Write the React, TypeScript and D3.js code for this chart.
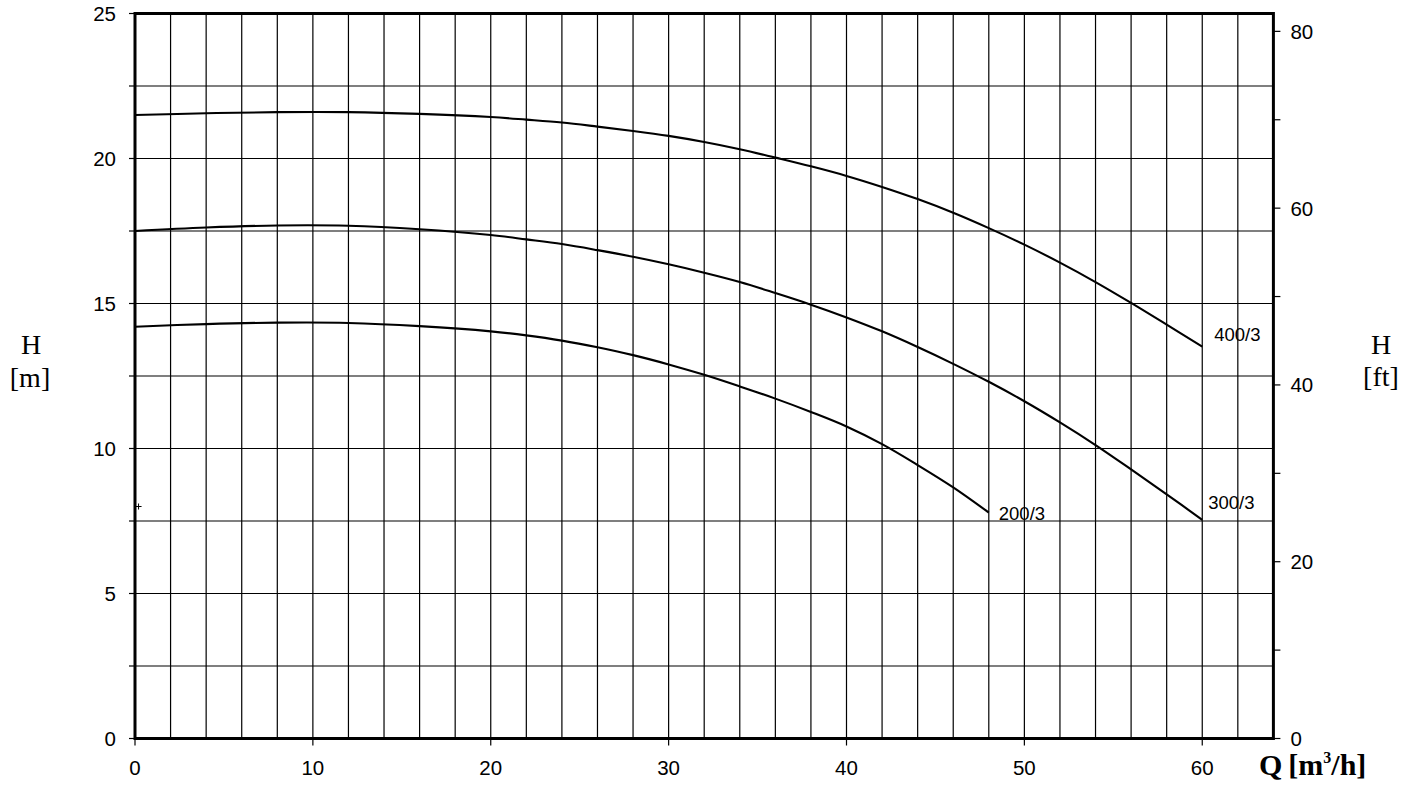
import React from "react";
import * as d3 from "d3";

// ---- data ----
const flowQ400 = [0, 4, 8, 12, 16, 20, 22, 24, 26, 28, 30, 32, 34, 36, 38, 40, 42, 44, 46, 48, 50, 52, 54, 56, 58, 60];
const head400 = [21.5, 21.56, 21.6, 21.6, 21.54, 21.43, 21.34, 21.24, 21.1, 20.95, 20.78, 20.57, 20.32, 20.03, 19.73, 19.4, 19.02, 18.6, 18.13, 17.6, 17.03, 16.41, 15.74, 15.02, 14.27, 13.51];
const flowQ300 = [0, 4, 8, 12, 16, 20, 22, 24, 26, 28, 30, 32, 34, 36, 38, 40, 42, 44, 46, 48, 50, 52, 54, 56, 58, 60];
const head300 = [17.5, 17.62, 17.69, 17.68, 17.56, 17.36, 17.21, 17.05, 16.84, 16.61, 16.35, 16.06, 15.74, 15.36, 14.96, 14.52, 14.04, 13.5, 12.92, 12.3, 11.63, 10.9, 10.12, 9.28, 8.42, 7.54];
const flowQ200 = [0, 4, 8, 12, 16, 20, 22, 24, 26, 28, 30, 32, 34, 36, 38, 40, 42, 44, 46, 48];
const head200 = [14.2, 14.29, 14.34, 14.33, 14.22, 14.04, 13.9, 13.72, 13.49, 13.22, 12.9, 12.54, 12.14, 11.72, 11.26, 10.76, 10.15, 9.43, 8.66, 7.79];
const curveNames = ["400/3", "300/3", "200/3"];

const xTickLabels = [0, 10, 20, 30, 40, 50, 60];
const yTickLabels = [0, 5, 10, 15, 20, 25];
const ftTickLabels = [0, 20, 40, 60, 80];
const ftMinorTicks = [10, 30, 50, 70];
const markerPoint = [0.2, 8.0];

const M_TO_FT = 3.28084;

export default function App() {
  const W = 1405, H = 785;
  const x = d3.scaleLinear().domain([0, 64]).range([135, 1273.4]);
  const y = d3.scaleLinear().domain([0, 25]).range([738.5, 13.5]);
  const yFt = d3.scaleLinear().domain([0, 25 * M_TO_FT]).range([738.5, 13.5]);

  const vGrid = d3.range(2, 64, 2);
  const hGrid = d3.range(2.5, 25, 2.5);
  const leftTicks = d3.range(0, 25.01, 2.5);

  const line = d3
    .line<[number, number]>()
    .x((d) => x(d[0]))
    .y((d) => y(d[1]))
    .curve(d3.curveCatmullRom.alpha(0.5));

  const series = [
    { name: curveNames[0], q: flowQ400, h: head400, dx: 12, dy: -6 },
    { name: curveNames[1], q: flowQ300, h: head300, dx: 6, dy: -11 },
    { name: curveNames[2], q: flowQ200, h: head200, dx: 10, dy: 7 },
  ];

  const sans = "'Liberation Sans', Arial, sans-serif";
  const serif = "'Liberation Serif', 'Times New Roman', serif";

  return (
    <svg
      width={W}
      height={H}
      style={{ position: "absolute", left: 0, top: 0, background: "#fff" }}
    >
      <rect x={0} y={0} width={W} height={H} fill="#fff" />
      {/* grid */}
      <g stroke="#000" strokeWidth={1.2}>
        {vGrid.map((v) => (
          <line key={"v" + v} x1={x(v)} x2={x(v)} y1={y(0)} y2={y(25)} />
        ))}
        {hGrid.map((v) => (
          <line key={"h" + v} x1={x(0)} x2={x(64)} y1={y(v)} y2={y(v)} />
        ))}
      </g>
      {/* curves */}
      <g fill="none" stroke="#000" strokeWidth={2.1}>
        {series.map((s) => (
          <path key={s.name} d={line(s.q.map((q, i) => [q, s.h[i]] as [number, number])) || ""} />
        ))}
      </g>
      {/* curve labels */}
      <g fontFamily={sans} fontSize={18.5} fill="#000">
        {series.map((s) => {
          const lq = s.q[s.q.length - 1];
          const lh = s.h[s.h.length - 1];
          return (
            <text key={"l" + s.name} x={x(lq) + s.dx} y={y(lh) + s.dy}>
              {s.name}
            </text>
          );
        })}
      </g>
      {/* small cross marker */}
      <g stroke="#000" strokeWidth={1}>
        <line x1={x(markerPoint[0]) - 3} x2={x(markerPoint[0]) + 3} y1={y(markerPoint[1])} y2={y(markerPoint[1])} />
        <line x1={x(markerPoint[0])} x2={x(markerPoint[0])} y1={y(markerPoint[1]) - 3} y2={y(markerPoint[1]) + 3} />
      </g>
      {/* frame */}
      <rect
        x={x(0)}
        y={y(25)}
        width={x(64) - x(0)}
        height={y(0) - y(25)}
        fill="none"
        stroke="#000"
        strokeWidth={3}
      />
      {/* axis ticks */}
      <g stroke="#000" strokeWidth={1.2}>
        {leftTicks.map((v) => (
          <line key={"lt" + v} x1={x(0) - 6} x2={x(0)} y1={y(v)} y2={y(v)} />
        ))}
        {xTickLabels.map((v) => (
          <line key={"bt" + v} x1={x(v)} x2={x(v)} y1={y(0)} y2={y(0) + 7} />
        ))}
        {[...ftTickLabels, ...ftMinorTicks].map((v) => (
          <line key={"rt" + v} x1={x(64)} x2={x(64) + 7} y1={yFt(v)} y2={yFt(v)} />
        ))}
      </g>
      {/* tick labels */}
      <g fontFamily={sans} fontSize={20.5} fill="#000">
        {yTickLabels.map((v) => (
          <text key={"yl" + v} x={x(0) - 19} y={y(v)} textAnchor="end" dominantBaseline="central">
            {v}
          </text>
        ))}
        {xTickLabels.map((v) => (
          <text key={"xl" + v} x={x(v)} y={775} textAnchor="middle">
            {v}
          </text>
        ))}
        {ftTickLabels.map((v) => (
          <text key={"fl" + v} x={x(64) + 17} y={yFt(v)} textAnchor="start" dominantBaseline="central">
            {v}
          </text>
        ))}
      </g>
      {/* axis titles */}
      <g fontFamily={serif} fontSize={28} fill="#000" textAnchor="middle">
        <text x={31} y={354}>H</text>
        <text x={30} y={387}>[m]</text>
        <text x={1381} y={354}>H</text>
        <text x={1381} y={386}>[ft]</text>
      </g>
      <text x={1259} y={775} fontFamily={serif} fontSize={30} fill="#000" fontWeight="bold">
        Q
        <tspan dx={6}>[m</tspan>
        <tspan fontSize={16} dy={-12}>3</tspan>
        <tspan dy={12}>/h]</tspan>
      </text>
    </svg>
  );
}
